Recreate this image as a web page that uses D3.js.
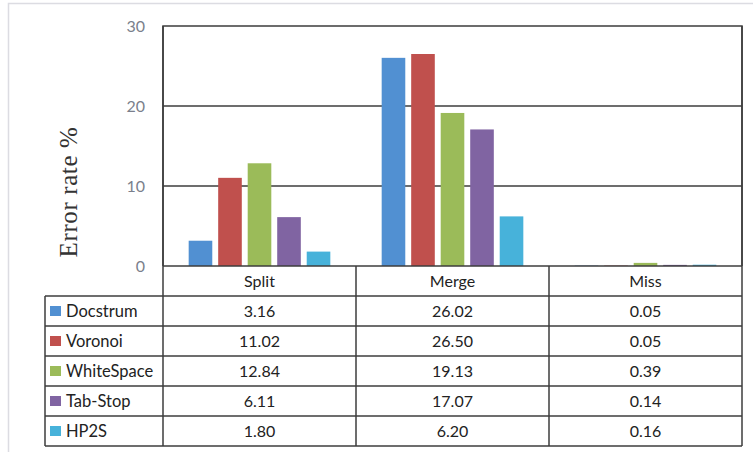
<!DOCTYPE html>
<html>
<head>
<meta charset="utf-8">
<script src="https://cdn.jsdelivr.net/npm/d3@7/dist/d3.min.js"></script>
<style>
  html, body { margin: 0; padding: 0; background: #fff; }
  svg { display: block; }
</style>
</head>
<body>
<svg id="chart" width="753" height="452"></svg>
<script>
// Error-type categories (table columns / bar groups)
const categories = ["Split", "Merge", "Miss"];
// Segmentation methods (series / table rows)
const methods = ["Docstrum", "Voronoi", "WhiteSpace", "Tab-Stop", "HP2S"];
const colors = ["#5190d2", "#c0504d", "#9bbb59", "#8064a2", "#47b2da"];
// Error rate % per method, one value per category
const docstrum   = [3.16, 26.02, 0.05];
const voronoi    = [11.02, 26.50, 0.05];
const whiteSpace = [12.84, 19.13, 0.39];
const tabStop    = [6.11, 17.07, 0.14];
const hp2s       = [1.80, 6.20, 0.16];
const yTicks = [0, 10, 20, 30];

const seriesValues = [docstrum, voronoi, whiteSpace, tabStop, hp2s];
const valueLabels = [
  ["3.16", "26.02", "0.05"],
  ["11.02", "26.50", "0.05"],
  ["12.84", "19.13", "0.39"],
  ["6.11", "17.07", "0.14"],
  ["1.80", "6.20", "0.16"]
];

const svg = d3.select("#chart");
const font = "Lato, 'Open Sans', sans-serif";
const lineColor = "#3c3c3c";

// outer light frame
svg.append("path")
  .attr("d", "M8.5,452 V3.5 H753")
  .attr("fill", "none").attr("stroke", "#dcdce2").attr("stroke-width", 1.5);

const plotLeft = 163, plotRight = 742, plotTop = 26, zeroY = 266;
const rowH = 30, tableLeft = 45;

const x = d3.scaleBand().domain(categories).range([plotLeft, plotRight]).padding(0);
const xs = d3.scaleBand().domain(methods).range([0, x.bandwidth()])
  .paddingInner(0.2).paddingOuter(0.87);
const y = d3.scaleLinear().domain([0, 30]).range([zeroY, plotTop]);

// gridlines
svg.append("g").selectAll("line").data(yTicks.filter(t => t > 0 && t < 30)).join("line")
  .attr("x1", plotLeft).attr("x2", plotRight)
  .attr("y1", d => y(d)).attr("y2", d => y(d))
  .attr("stroke", lineColor).attr("stroke-width", 1.5);

// bars
const groups = svg.append("g").selectAll("g").data(methods).join("g")
  .attr("fill", (d, i) => colors[i]);
groups.selectAll("rect")
  .data((m, i) => categories.map((c, j) => ({ m, c, v: seriesValues[i][j] })))
  .join("rect")
  .attr("x", d => x(d.c) + xs(d.m))
  .attr("width", xs.bandwidth())
  .attr("y", d => y(d.v))
  .attr("height", d => y(0) - y(d.v));

// y axis tick labels
const yAxis = d3.axisLeft(y).tickValues(yTicks).tickSize(0).tickPadding(18);
const ya = svg.append("g").attr("transform", `translate(${plotLeft},0)`).call(yAxis);
ya.select(".domain").remove();
ya.selectAll("text")
  .attr("font-family", font).attr("font-size", 16).attr("fill", "#7a7f8c");

// y axis title
svg.append("text")
  .attr("transform", `translate(77,192) rotate(-90)`)
  .attr("text-anchor", "middle")
  .attr("font-family", "'Liberation Serif', 'Times New Roman', serif")
  .attr("font-size", 25).attr("letter-spacing", 0.6).attr("fill", "#333")
  .text("Error rate %");

// plot frame (top, right) and x axis
svg.append("path")
  .attr("d", `M${plotLeft},${zeroY} V${plotTop} H${plotRight} V${zeroY}`)
  .attr("fill", "none").attr("stroke", lineColor).attr("stroke-width", 1.5);

// data table
const tableBottom = zeroY + rowH * (methods.length + 1);
const tbl = svg.append("g").attr("stroke", lineColor).attr("stroke-width", 1.5).attr("fill", "none");
// horizontal lines
tbl.append("line").attr("x1", plotLeft).attr("x2", plotRight).attr("y1", zeroY).attr("y2", zeroY);
d3.range(1, methods.length + 2).forEach(r => {
  tbl.append("line").attr("x1", tableLeft).attr("x2", plotRight)
    .attr("y1", zeroY + r * rowH).attr("y2", zeroY + r * rowH);
});
// vertical lines
tbl.append("line").attr("x1", tableLeft).attr("x2", tableLeft)
  .attr("y1", zeroY + rowH).attr("y2", tableBottom);
categories.forEach(c => {
  tbl.append("line").attr("x1", x(c)).attr("x2", x(c)).attr("y1", c === categories[0] ? plotTop : zeroY).attr("y2", tableBottom);
});
tbl.append("line").attr("x1", plotRight).attr("x2", plotRight).attr("y1", plotTop).attr("y2", tableBottom);

// header labels
svg.append("g").selectAll("text").data(categories).join("text")
  .attr("x", d => x(d) + x.bandwidth() / 2)
  .attr("y", zeroY + rowH / 2)
  .attr("dy", "0.35em").attr("text-anchor", "middle")
  .attr("font-family", font).attr("font-size", 16).attr("fill", "#222")
  .text(d => d);

// rows: legend key, method name, values
methods.forEach((m, i) => {
  const cy = zeroY + rowH * (i + 1) + rowH / 2;
  svg.append("rect").attr("x", 50).attr("y", cy - 5).attr("width", 11).attr("height", 10)
    .attr("fill", colors[i]);
  svg.append("text").attr("x", 66).attr("y", cy).attr("dy", "0.35em")
    .attr("font-family", font).attr("font-size", 16.5).attr("fill", "#222").text(m);
  categories.forEach((c, j) => {
    svg.append("text")
      .attr("x", x(c) + x.bandwidth() / 2).attr("y", cy).attr("dy", "0.35em")
      .attr("text-anchor", "middle")
      .attr("font-family", font).attr("font-size", 16).attr("fill", "#222")
      .text(valueLabels[i][j]);
  });
});
</script>
</body>
</html>
